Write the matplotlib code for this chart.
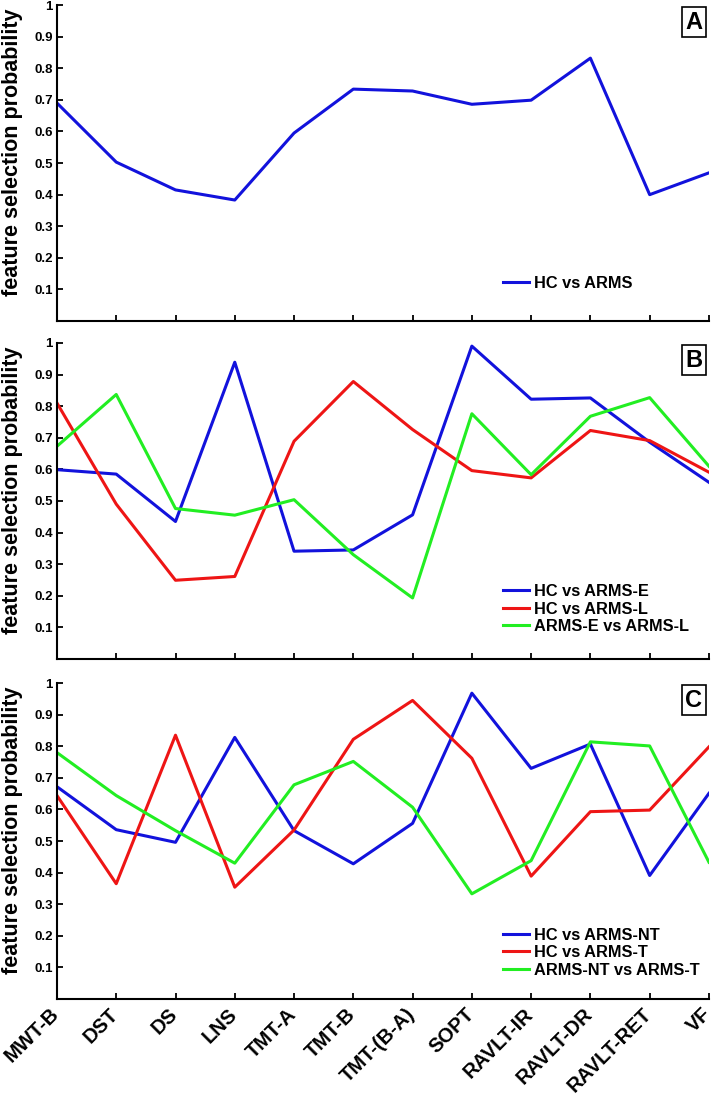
import numpy as np
import matplotlib
matplotlib.use('Agg')
import matplotlib.pyplot as plt
import matplotlib.transforms as mtrans

plt.rcParams['font.family'] = ['Liberation Sans', 'DejaVu Sans']
plt.rcParams['font.weight'] = 'bold'

# 测试项目
tests = ['MWT-B', 'DST', 'DS', 'LNS', 'TMT-A', 'TMT-B', 'TMT-(B-A)', 'SOPT',
         'RAVLT-IR', 'RAVLT-DR', 'RAVLT-RET', 'VF']

# A: HC vs ARMS
hc_arms = [0.69, 0.503, 0.415, 0.383, 0.595, 0.734, 0.728, 0.686, 0.699, 0.832, 0.40, 0.469]

# B
hc_armse = [0.599, 0.585, 0.435, 0.939, 0.341, 0.345, 0.456, 0.99, 0.822, 0.826, 0.686, 0.559]
hc_armsl = [0.81, 0.49, 0.249, 0.261, 0.689, 0.878, 0.726, 0.596, 0.573, 0.723, 0.691, 0.591]
armse_armsl = [0.673, 0.837, 0.476, 0.455, 0.504, 0.33, 0.193, 0.776, 0.583, 0.768, 0.827, 0.61]

# C
hc_armsnt = [0.672, 0.536, 0.496, 0.828, 0.533, 0.428, 0.556, 0.968, 0.73, 0.807, 0.391, 0.651]
hc_armst = [0.644, 0.365, 0.835, 0.354, 0.535, 0.822, 0.945, 0.762, 0.389, 0.593, 0.598, 0.798]
armsnt_armst = [0.78, 0.644, 0.533, 0.43, 0.678, 0.752, 0.607, 0.333, 0.438, 0.814, 0.801, 0.433]

BLUE = '#1212dc'
RED = '#ee1515'
GREEN = '#22ee22'

panels = [
    ('A', [(hc_arms, BLUE, 'HC vs ARMS')], 0.7084, 0.12, 'center left'),
    ('B', [(hc_armse, BLUE, 'HC vs ARMS-E'),
           (hc_armsl, RED, 'HC vs ARMS-L'),
           (armse_armsl, GREEN, 'ARMS-E vs ARMS-L')], 0.4015, 0.237, 'upper left'),
    ('C', [(hc_armsnt, BLUE, 'HC vs ARMS-NT'),
           (hc_armst, RED, 'HC vs ARMS-T'),
           (armsnt_armst, GREEN, 'ARMS-NT vs ARMS-T')], 0.0926, 0.226, 'upper left'),
]

fig = plt.figure(figsize=(7.12, 11.01), dpi=100)
x = np.arange(1, len(tests) + 1)

for i, (tag, series, bottom, leg_y, leg_loc) in enumerate(panels):
    ax = fig.add_axes([0.080, bottom, 0.9157, 0.287])
    for vals, col, lab in series:
        ax.plot(x, vals, color=col, lw=2.2, label=lab)
    ax.set_xlim(1, 12)
    ax.set_ylim(0, 1)
    ax.spines['top'].set_visible(False)
    ax.spines['right'].set_visible(False)
    ax.spines['left'].set_linewidth(1.5)
    ax.spines['bottom'].set_linewidth(1.5)
    ax.set_yticks(np.arange(1, 11) / 10)
    ax.set_yticklabels(['0.%d' % k for k in range(1, 10)] + ['1'])
    ax.tick_params(axis='y', direction='in', length=4, width=1.3, labelsize=9.5, pad=3)
    ax.set_xticks(x)
    ax.tick_params(axis='x', direction='in', length=4.5, width=1.3)
    if tag == 'C':
        ax.set_xticklabels(tests, rotation=45, ha='right', va='top',
                           rotation_mode='anchor', fontsize=14.5, fontweight='bold')
        ax.tick_params(axis='x', pad=4)
        shift = mtrans.ScaledTranslation(-5.5 / 72, 0, fig.dpi_scale_trans)
        for lbl in ax.get_xticklabels():
            lbl.set_transform(lbl.get_transform() + shift)
    else:
        ax.set_xticklabels([])
    for lbl in ax.get_yticklabels():
        lbl.set_fontweight('bold')
    ax.set_ylabel('feature selection probability', fontsize=15.5, fontweight='bold')
    ax.yaxis.set_label_coords(-0.052, 0.535)
    ax.text(0.977, 0.945, tag, transform=ax.transAxes, ha='center', va='center',
            fontsize=17, fontweight='bold',
            bbox=dict(boxstyle='square,pad=0.15', fc='white', ec='black', lw=1.2))
    ax.legend(loc=leg_loc, bbox_to_anchor=(0.684, leg_y), frameon=False,
              borderpad=0, borderaxespad=0, handlelength=1.6, handletextpad=0.3,
              labelspacing=0.15, prop={'size': 11.8, 'weight': 'bold'})

fig.savefig('out.png', dpi=100)
